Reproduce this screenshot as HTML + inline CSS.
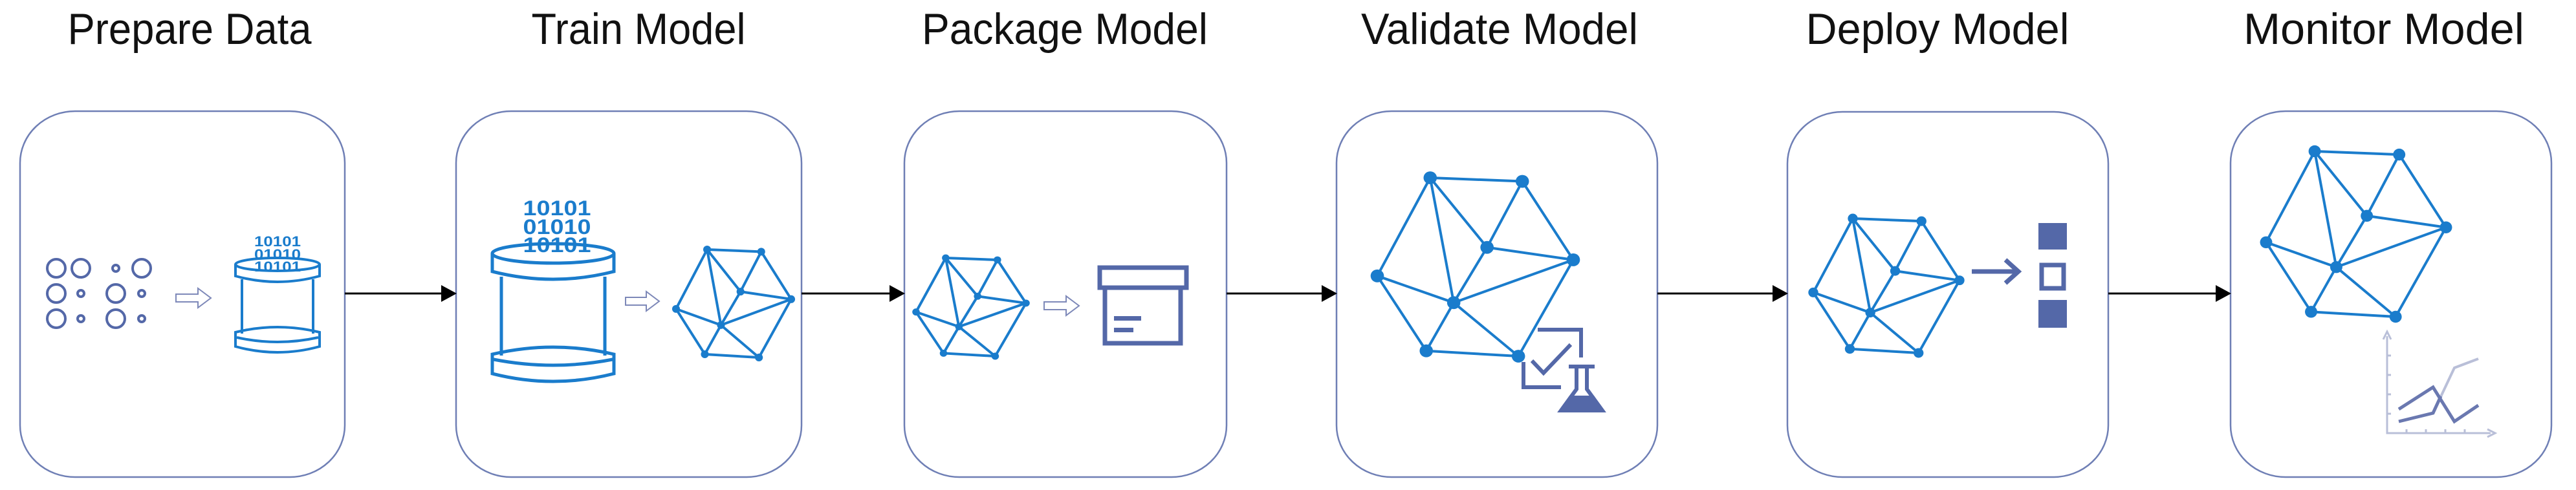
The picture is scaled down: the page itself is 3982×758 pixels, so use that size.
<!DOCTYPE html>
<html><head><meta charset="utf-8"><style>
html,body{margin:0;padding:0;background:#fff;width:3982px;height:758px;overflow:hidden}
svg{display:block}
text{font-family:"Liberation Sans",sans-serif;font-size:68px;fill:#111}
</style></head><body>
<svg width="3982" height="758" viewBox="0 0 3982 758" xmlns="http://www.w3.org/2000/svg">
<defs>
<g id="net">
<g stroke="#1a7ccc" stroke-width="4" fill="none">
<path vector-effect="non-scaling-stroke" d="M27 0L74 2M27 0L0 55M27 0L39 70M27 0L56 39M74 2L56 39M74 2L100 46M56 39L100 46M56 39L39 70M100 46L39 70M100 46L72 100M0 55L39 70M0 55L25 97M39 70L25 97M39 70L72 100M25 97L72 100"/>
</g>
<g fill="#1a7ccc">
<ellipse cx="27" cy="0" rx="3.4" ry="3.6"/><ellipse cx="74" cy="2" rx="3.4" ry="3.6"/><ellipse cx="56" cy="39" rx="3.4" ry="3.6"/><ellipse cx="100" cy="46" rx="3.4" ry="3.6"/><ellipse cx="0" cy="55" rx="3.4" ry="3.6"/><ellipse cx="39" cy="70" rx="3.4" ry="3.6"/><ellipse cx="25" cy="97" rx="3.4" ry="3.6"/><ellipse cx="72" cy="100" rx="3.4" ry="3.6"/>
</g>
</g>
</defs>

<!-- titles -->
<text x="293" y="68" text-anchor="middle" textLength="377" lengthAdjust="spacingAndGlyphs">Prepare Data</text>
<text x="987" y="68" text-anchor="middle" textLength="331" lengthAdjust="spacingAndGlyphs">Train Model</text>
<text x="1646" y="68" text-anchor="middle" textLength="442" lengthAdjust="spacingAndGlyphs">Package Model</text>
<text x="2318" y="68" text-anchor="middle" textLength="428" lengthAdjust="spacingAndGlyphs">Validate Model</text>
<text x="2995" y="68" text-anchor="middle" textLength="407" lengthAdjust="spacingAndGlyphs">Deploy Model</text>
<text x="3685" y="68" text-anchor="middle" textLength="434" lengthAdjust="spacingAndGlyphs">Monitor Model</text>

<!-- boxes -->
<g fill="none" stroke="#6f7fb5" stroke-width="2.5">
<rect x="31" y="172" width="502" height="566" rx="85" ry="80"/>
<rect x="705" y="172" width="534" height="566" rx="85" ry="80"/>
<rect x="1398" y="172" width="498" height="566" rx="85" ry="80"/>
<rect x="2066" y="172" width="496" height="566" rx="85" ry="80"/>
<rect x="2763" y="173" width="496" height="565" rx="85" ry="80"/>
<rect x="3448" y="172" width="496" height="566" rx="85" ry="80"/>
</g>

<!-- connectors -->
<g stroke="#000" stroke-width="3">
<line x1="533" y1="454" x2="685" y2="454"/>
<line x1="1239" y1="454" x2="1378" y2="454"/>
<line x1="1896" y1="454" x2="2046" y2="454"/>
<line x1="2562" y1="454" x2="2743" y2="454"/>
<line x1="3259" y1="454" x2="3428" y2="454"/>
</g>
<g fill="#000">
<path d="M682 441L706 454L682 467Z"/>
<path d="M1375 441L1399 454L1375 467Z"/>
<path d="M2043 441L2067 454L2043 467Z"/>
<path d="M2740 441L2764 454L2740 467Z"/>
<path d="M3425 441L3449 454L3425 467Z"/>
</g>

<!-- box1 circles -->
<g fill="none" stroke="#5468a8" stroke-width="4">
<circle cx="87" cy="415" r="14"/><circle cx="125" cy="415" r="14"/><circle cx="219" cy="415" r="14"/>
<circle cx="87" cy="454" r="14"/><circle cx="179" cy="454" r="14"/>
<circle cx="87" cy="493" r="14"/><circle cx="179" cy="493" r="14"/>
<circle cx="179" cy="415" r="5"/><circle cx="125" cy="454" r="5"/><circle cx="219" cy="454" r="5"/><circle cx="125" cy="493" r="5"/><circle cx="219" cy="493" r="5"/>
</g>
<!-- hollow arrows -->
<g fill="none" stroke="#7d88b8" stroke-width="2">
<path d="M272 455h34v-9l20 15-20 15v-9h-34z"/>
<path d="M967 460h32v-9l20 15-20 15v-9h-32z"/>
<path d="M1614 467h34v-9l20 15-20 15v-9h-34z"/>
</g>

<!-- cylinder 1 -->
<g fill="none" stroke="#1a7ccc" stroke-width="4">
<ellipse cx="429" cy="409" rx="65" ry="10"/>
<path d="M364 409v18q65 18 130 0v-18"/>
<path d="M374 432v84M484 432v84"/>
<path d="M364 514q65 -16 130 0v22q-65 18 -130 0z"/>
<path d="M366 522q63 14 126 0"/>
</g>
<g font-weight="bold">
<text x="429" y="381" text-anchor="middle" style="font-size:22px;fill:#1a7ccc" textLength="72" lengthAdjust="spacingAndGlyphs">10101</text>
<text x="429" y="401" text-anchor="middle" style="font-size:22px;fill:#1a7ccc" textLength="72" lengthAdjust="spacingAndGlyphs">01010</text>
<text x="429" y="420" text-anchor="middle" style="font-size:22px;fill:#1a7ccc" textLength="72" lengthAdjust="spacingAndGlyphs">10101</text>
</g>

<!-- cylinder 2 -->
<g fill="none" stroke="#1a7ccc" stroke-width="5">
<ellipse cx="855" cy="392" rx="94" ry="15"/>
<path d="M761 392v28q94 24 188 0v-28"/>
<path d="M775 428v122M935 428v122"/>
<path d="M761 548q94 -22 188 0v30q-94 24 -188 0z"/>
<path d="M763 556q92 18 184 0"/>
</g>
<g font-weight="bold">
<text x="861" y="333" text-anchor="middle" style="font-size:32px;fill:#1a7ccc" textLength="105" lengthAdjust="spacingAndGlyphs">10101</text>
<text x="861" y="362" text-anchor="middle" style="font-size:32px;fill:#1a7ccc" textLength="105" lengthAdjust="spacingAndGlyphs">01010</text>
<text x="861" y="390" text-anchor="middle" style="font-size:32px;fill:#1a7ccc" textLength="105" lengthAdjust="spacingAndGlyphs">10101</text>
</g>

<!-- networks -->
<use href="#net" transform="translate(1045 386) scale(1.78 1.67)"/>
<use href="#net" transform="translate(1416 399) scale(1.70 1.52)"/>
<use href="#net" transform="translate(2129 275) scale(3.03 2.76)"/>
<use href="#net" transform="translate(2803 338) scale(2.26 2.08)"/>
<use href="#net" transform="translate(3503 234) scale(2.78 2.56)"/>

<!-- package box -->
<g fill="none" stroke="#5468a8" stroke-width="7">
<rect x="1700" y="414" width="134" height="31"/>
<path d="M1708 445v86h117v-86"/>
</g>
<g fill="#5468a8"><rect x="1722" y="489" width="42" height="7"/><rect x="1722" y="507" width="30" height="7"/></g>

<!-- validate clipboard + flask -->
<g fill="none" stroke="#5468a8" stroke-width="6">
<path d="M2377 510h67v43"/>
<path d="M2355 560v39h58"/>
<path d="M2368 558l18 19l42 -44"/>
<path d="M2425 567h40"/>
</g>
<path d="M2437 567h16v35l24 33h-64l24 -33z" fill="none" stroke="#5468a8" stroke-width="6"/>
<path d="M2426 612h38l16 25h-70z" fill="#5468a8"/>

<!-- deploy arrow + stack -->
<g fill="none" stroke="#5468a8" stroke-width="7">
<path d="M3048 420h70M3100 402l20 18l-20 18"/>
<rect x="3156" y="410" width="34" height="36"/>
</g>
<g fill="#5468a8"><rect x="3151" y="345" width="44" height="41"/><rect x="3151" y="464" width="44" height="43"/></g>

<!-- monitor chart -->
<g fill="none" stroke-width="3" stroke="#b9bfd8">
<path d="M3690 520v150h160"/>
<path d="M3684 525l6 -12l6 12M3845 664l12 6l-12 6"/>
<path d="M3690 550h6M3690 580h6M3690 610h6M3690 640h6M3720 670v-6M3750 670v-6M3780 670v-6M3810 670v-6"/>
<path d="M3761 639l33 -70l37 -14" stroke-width="4"/>
</g>
<g fill="none" stroke="#6a78b0" stroke-width="5">
<path d="M3708 633l53 -34l33 53l37 -25"/>
<path d="M3708 652l53 -13l12 -26"/>
</g>
</svg>
</body></html>
